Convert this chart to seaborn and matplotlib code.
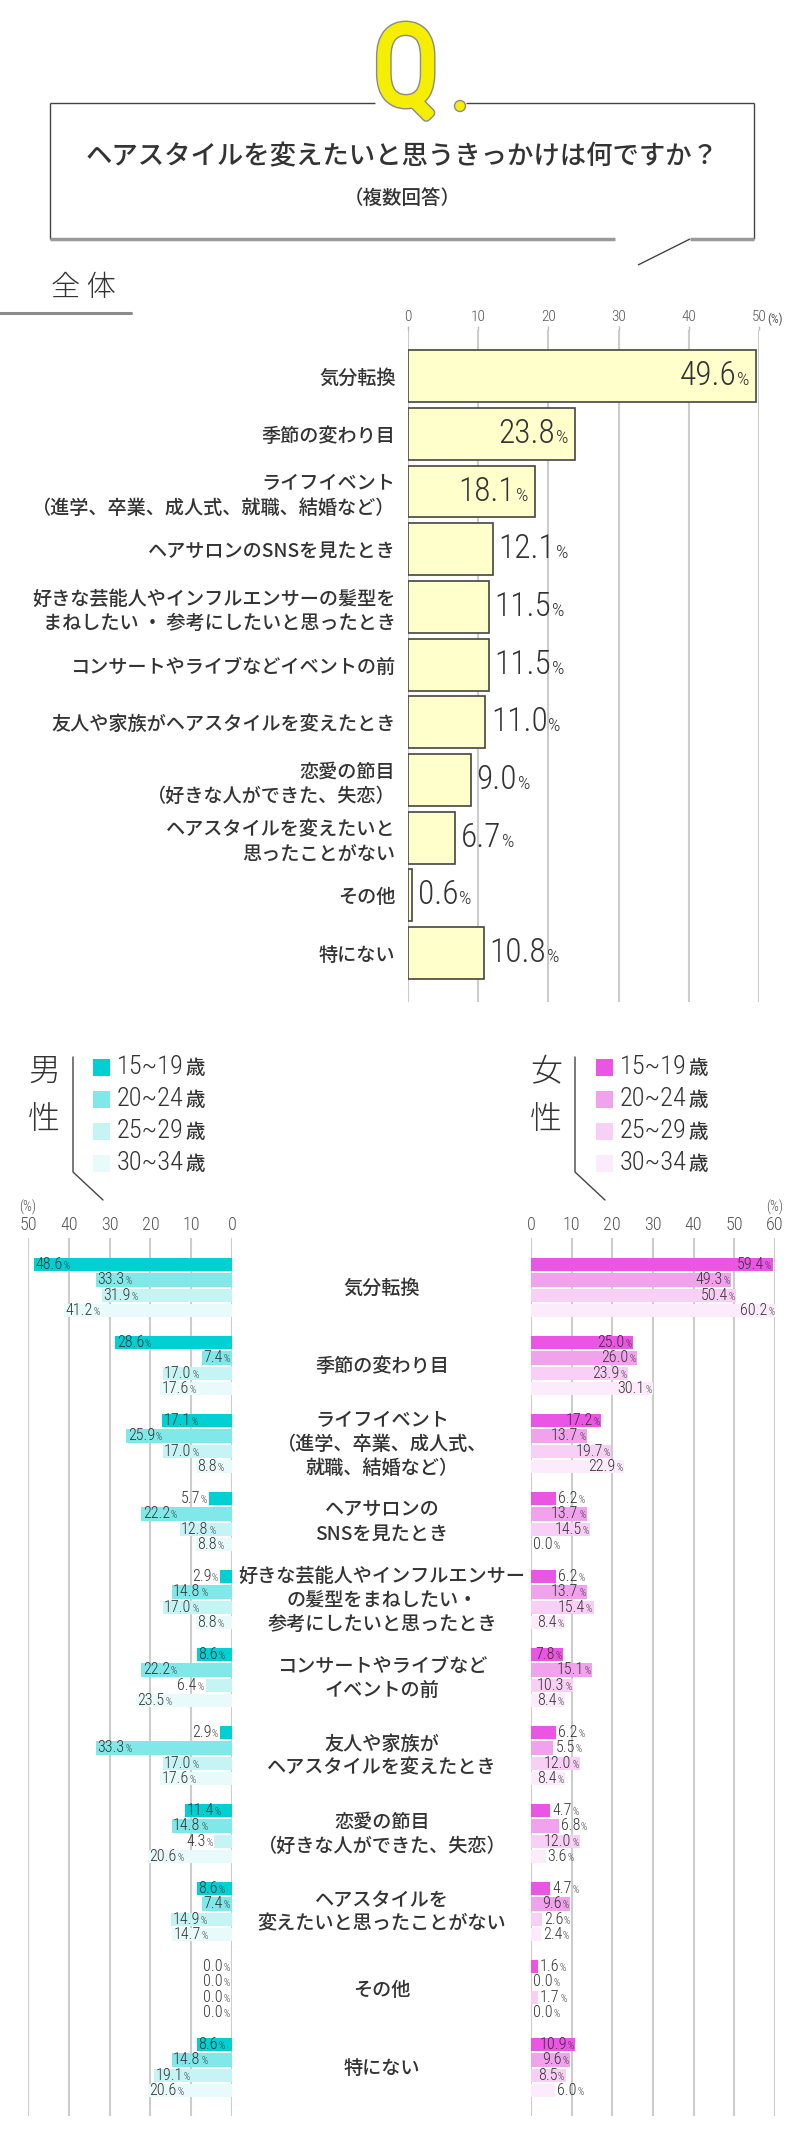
import numpy as np
import pandas as pd
import matplotlib
matplotlib.use("Agg")
import matplotlib.pyplot as plt
import seaborn as sns
from matplotlib import font_manager as fm
from matplotlib.offsetbox import TextArea, HPacker, AnnotationBbox
from matplotlib.patches import Rectangle, Circle
import matplotlib.patheffects as pe
import matplotlib.transforms as mtrans

# ---------------- data ----------------
title = "ヘアスタイルを変えたいと思うきっかけは何ですか？"
subtitle = "（複数回答）"

total_labels = [
    "気分転換",
    "季節の変わり目",
    "ライフイベント\n（進学、卒業、成人式、就職、結婚など）",
    "ヘアサロンのSNSを見たとき",
    "好きな芸能人やインフルエンサーの髪型を\nまねしたい ・ 参考にしたいと思ったとき",
    "コンサートやライブなどイベントの前",
    "友人や家族がヘアスタイルを変えたとき",
    "恋愛の節目\n（好きな人ができた、失恋）",
    "ヘアスタイルを変えたいと\n思ったことがない",
    "その他",
    "特にない",
]
total_values = [49.6, 23.8, 18.1, 12.1, 11.5, 11.5, 11.0, 9.0, 6.7, 0.6, 10.8]

gender_labels = [
    "気分転換",
    "季節の変わり目",
    "ライフイベント\n（進学、卒業、成人式、\n就職、結婚など）",
    "ヘアサロンの\nSNSを見たとき",
    "好きな芸能人やインフルエンサー\nの髪型をまねしたい・\n参考にしたいと思ったとき",
    "コンサートやライブなど\nイベントの前",
    "友人や家族が\nヘアスタイルを変えたとき",
    "恋愛の節目\n（好きな人ができた、失恋）",
    "ヘアスタイルを\n変えたいと思ったことがない",
    "その他",
    "特にない",
]
ages = ["15~19", "20~24", "25~29", "30~34"]

male_15_19 = [48.6, 28.6, 17.1, 5.7, 2.9, 8.6, 2.9, 11.4, 8.6, 0.0, 8.6]
male_20_24 = [33.3, 7.4, 25.9, 22.2, 14.8, 22.2, 33.3, 14.8, 7.4, 0.0, 14.8]
male_25_29 = [31.9, 17.0, 17.0, 12.8, 17.0, 6.4, 17.0, 4.3, 14.9, 0.0, 19.1]
male_30_34 = [41.2, 17.6, 8.8, 8.8, 8.8, 23.5, 17.6, 20.6, 14.7, 0.0, 20.6]

female_15_19 = [59.4, 25.0, 17.2, 6.2, 6.2, 7.8, 6.2, 4.7, 4.7, 1.6, 10.9]
female_20_24 = [49.3, 26.0, 13.7, 13.7, 13.7, 15.1, 5.5, 6.8, 9.6, 0.0, 9.6]
female_25_29 = [50.4, 23.9, 19.7, 14.5, 15.4, 10.3, 12.0, 12.0, 2.6, 1.7, 8.5]
female_30_34 = [60.2, 30.1, 22.9, 0.0, 8.4, 8.4, 8.4, 3.6, 2.4, 0.0, 6.0]

male_colors = ["#00D0D2", "#80E8E8", "#C6F4F4", "#E9FAFA"]
female_colors = ["#EA55E4", "#F1A2EC", "#F8CFF5", "#FCECFB"]
bar_yellow = "#FFFFCC"

# ---------------- style ----------------
sns.set_style("white")
names = {f.name for f in fm.fontManager.ttflist}
CJK = "Noto Sans CJK JP"
NUM = next((c for c in ["Roboto Condensed", "Liberation Sans Narrow",
                        "Open Sans Condensed", "Roboto", "DejaVu Sans"]
            if c in names), "DejaVu Sans")
plt.rcParams["font.family"] = [CJK, "DejaVu Sans"]
TXT = "#333333"
GRID = "#cccccc"

W, H = 800, 2150
fig = plt.figure(figsize=(W / 100, H / 100), dpi=100)


def rect_px(x0, y0, x1, y1):
    return [x0 / W, 1 - y1 / H, (x1 - x0) / W, (y1 - y0) / H]


# decoration axes in pixel coordinates
deco = fig.add_axes([0, 0, 1, 1], zorder=0)
deco.set_xlim(0, W)
deco.set_ylim(H, 0)
deco.axis("off")

# question box
lk = dict(color="#444444", lw=1.0, solid_capstyle="butt")
deco.plot([50, 375], [103, 103], **lk)
deco.plot([466, 754], [103, 103], **lk)
deco.plot([50, 50], [103, 239], **lk)
deco.plot([754, 754], [103, 239], **lk)
deco.plot([50, 615], [239, 239], color="#999999", lw=2.5, solid_capstyle="butt")
deco.plot([690, 754], [239, 239], color="#999999", lw=2.5, solid_capstyle="butt")
deco.plot([690, 638], [239, 265], **lk)
deco.text(406, 74, "Q", fontsize=78, family=NUM, weight="light", color="#F5EE00",
          ha="center", va="center",
          path_effects=[pe.Stroke(linewidth=7, foreground="#8a8a8a"),
                        pe.Stroke(linewidth=5, foreground="#F5EE00"),
                        pe.Normal()])
deco.add_patch(Circle((460, 106), 5.5, facecolor="#F5EE00", edgecolor="#8a8a8a", lw=1))
deco.text(402, 157, title, fontsize=19, color=TXT, ha="center", va="center",
          weight="medium")
deco.text(402, 198, subtitle, fontsize=14, color=TXT, ha="center", va="center",
          weight="medium")

# section title
deco.text(51, 288, "全 体", fontsize=21, color=TXT, ha="left", va="center", weight="light")
deco.plot([0, 131], [313, 313], color="#8a8a8a", lw=2.2)

# ---------------- overall chart ----------------
ax_t = fig.add_axes(rect_px(408, 330, 759, 1002), zorder=1)
ax_t.set_facecolor("none")
df_total = pd.DataFrame({"cat": total_labels, "val": total_values})
sns.barplot(data=df_total, x="val", y="cat", order=total_labels, orient="y",
            color=bar_yellow, saturation=1, edgecolor="#444444", linewidth=1.2,
            width=0.9, ax=ax_t)
ax_t.set_xlim(0, 50)
ax_t.set_ylim(10.85, -0.8)
ax_t.set_xticks(range(0, 51, 10))
ax_t.set_xticklabels([str(v) for v in range(0, 51, 10)])
ax_t.xaxis.tick_top()
ax_t.grid(axis="x", color=GRID, lw=1.5)
ax_t.grid(axis="y", visible=False)
ax_t.set_axisbelow(True)
for s in ax_t.spines.values():
    s.set_visible(False)
ax_t.set_xlabel("")
ax_t.set_ylabel("")
ax_t.tick_params(axis="x", length=3, width=1, color="#bbbbbb", pad=1,
                 labelsize=11, labelcolor="#555555")
for lbl in ax_t.get_xticklabels():
    lbl.set_family(NUM)
    lbl.set_weight("light")
ax_t.tick_params(axis="y", length=0, pad=9, labelsize=13.8, labelcolor=TXT)
for lbl in ax_t.get_yticklabels():
    lbl.set_linespacing(1.25)
    lbl.set_weight("medium")
ax_t.annotate("(%)", xy=(50, 1), xycoords=("data", "axes fraction"),
              xytext=(6, 3.2), textcoords="offset points", ha="left", va="bottom",
              fontsize=9, color="#555555", family=NUM)


def value_label(ax, x, y, val, align, dx, big, small):
    num = TextArea(f"{val:.1f}", textprops=dict(fontsize=big, family=NUM,
                                               weight="light", color=TXT))
    pct = TextArea("%", textprops=dict(fontsize=small, family=NUM,
                                        weight="light", color=TXT))
    pack = HPacker(children=[num, pct], align="baseline", pad=0, sep=0.5)
    ab = AnnotationBbox(pack, (x, y), xycoords="data", xybox=(dx, 0),
                        boxcoords="offset points", box_alignment=(align, 0.5),
                        frameon=False, pad=0, annotation_clip=False)
    ax.add_artist(ab)


for bar in ax_t.patches:
    v = bar.get_width()
    yc = bar.get_y() + bar.get_height() / 2
    if v >= 15:
        value_label(ax_t, v, yc, v, 1, -5, 24, 14)
    else:
        value_label(ax_t, v, yc, v, 0, 4, 24, 14)

# ---------------- gender charts ----------------
def long_df(series):
    rows = []
    for age, vals in zip(ages, series):
        for cat, v in zip(gender_labels, vals):
            rows.append({"cat": cat, "age": age, "val": v})
    return pd.DataFrame(rows)


df_m = long_df([male_15_19, male_20_24, male_25_29, male_30_34])
df_f = long_df([female_15_19, female_20_24, female_25_29, female_30_34])

ax_m = fig.add_axes(rect_px(28, 1238, 232, 2116), zorder=1)
ax_f = fig.add_axes(rect_px(531, 1238, 775, 2116), zorder=1)

for ax, df, pal, xmax in [(ax_m, df_m, male_colors, 50), (ax_f, df_f, female_colors, 60)]:
    ax.set_facecolor("none")
    sns.barplot(data=df, x="val", y="cat", hue="age", order=gender_labels,
                hue_order=ages, palette=pal, saturation=1, orient="y",
                width=0.785, gap=0.12, linewidth=0, legend=False, ax=ax)
    ax.set_ylim(10.62, -0.636)
    ax.set_xticks(range(0, xmax + 1, 10))
    ax.set_xticklabels([str(v) for v in range(0, xmax + 1, 10)])
    ax.xaxis.tick_top()
    ax.grid(axis="x", color=GRID, lw=1.5)
    ax.grid(axis="y", visible=False)
    ax.set_axisbelow(True)
    for s in ax.spines.values():
        s.set_visible(False)
    ax.set_xlabel("")
    ax.set_ylabel("")
    ax.set_yticks([])
    ax.tick_params(axis="x", length=0, pad=3, labelsize=13, labelcolor="#555555")
    for lbl in ax.get_xticklabels():
        lbl.set_family(NUM)
        lbl.set_weight("light")
    ax.annotate("(%)", xy=(xmax, 1), xycoords=("data", "axes fraction"),
                xytext=(0, 22), textcoords="offset points", ha="center", va="center",
                fontsize=10, color="#555555", family=NUM, weight="light")

ax_m.set_xlim(50, 0)
ax_f.set_xlim(0, 60)

for bar in ax_m.patches:
    v = bar.get_width()
    yc = bar.get_y() + bar.get_height() / 2
    if v >= 7:
        value_label(ax_m, v, yc, v, 0, 1, 11.5, 7)
    else:
        value_label(ax_m, v, yc, v, 1, -1.5, 11.5, 7)

for bar in ax_f.patches:
    v = bar.get_width()
    yc = bar.get_y() + bar.get_height() / 2
    if v >= 7:
        value_label(ax_f, v, yc, v, 1, -1, 11.5, 7)
    else:
        value_label(ax_f, v, yc, v, 0, 1.5, 11.5, 7)

trans = mtrans.blended_transform_factory(fig.transFigure, ax_m.transData)
for i, lab in enumerate(gender_labels):
    ax_m.text(382 / W, i, lab, transform=trans, ha="center", va="center",
              fontsize=13.8, color=TXT, linespacing=1.25, clip_on=False,
              weight="medium")

# ---------------- legends ----------------
def legend_block(x_char, x_line, x_sq, chars, colors):
    deco.text(x_char, 1072, chars[0], fontsize=23, color=TXT, ha="center",
              va="center", weight="light")
    deco.text(x_char, 1120, chars[1], fontsize=23, color=TXT, ha="center",
              va="center", weight="light")
    deco.plot([x_line, x_line, x_line + 30], [1057, 1172, 1200], color="#444444", lw=1)
    for i, (age, c) in enumerate(zip(ages, colors)):
        yc = 1067 + 32 * i
        deco.add_patch(Rectangle((x_sq, yc - 8.5), 17, 17, facecolor=c, edgecolor="none"))
        t1 = TextArea(age, textprops=dict(fontsize=19, family=NUM, weight="light", color=TXT))
        t2 = TextArea("歳", textprops=dict(fontsize=14, family=CJK, color=TXT,
                                            weight="medium"))
        pack = HPacker(children=[t1, t2], align="baseline", pad=0, sep=1)
        ab = AnnotationBbox(pack, (x_sq + 24, yc), xycoords="data",
                            box_alignment=(0, 0.5), frameon=False, pad=0)
        deco.add_artist(ab)


legend_block(44, 73, 93, ["男", "性"], male_colors)
legend_block(546, 575, 596, ["女", "性"], female_colors)

fig.savefig("out.png", dpi=100, facecolor="white")
